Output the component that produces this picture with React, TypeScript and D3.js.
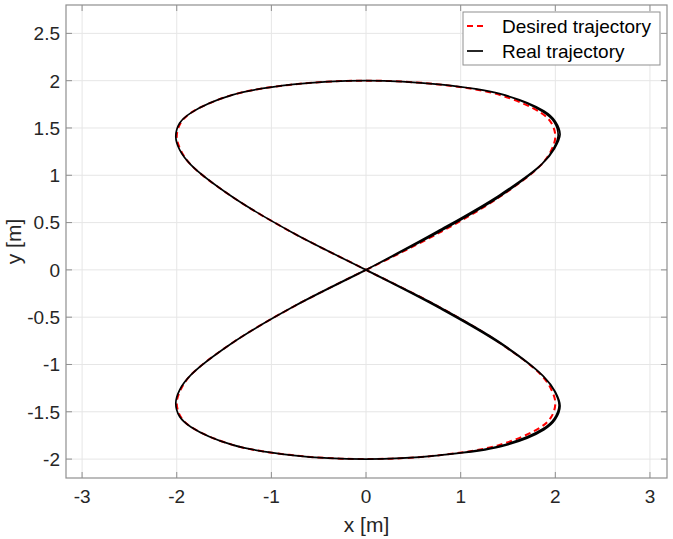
import * as d3 from 'd3'

// desired trajectory (x [m], y [m])
const desiredX = [
  0, 0.77, 1.41, 1.85, 1.96, 2.0, 1.96, 1.85, 1.41, 0.77, 0, -0.77, -1.41, -1.85, -1.96, -2.0, -1.96, -1.85, -1.41, -0.77, 0,
  0.77, 1.41, 1.85, 1.96, 2.0, 1.96, 1.85, 1.41, 0.77, 0, -0.77, -1.41, -1.85, -1.96, -2.0, -1.96, -1.85, -1.41, -0.77, 0,
]
const desiredY = [
  0, 0.39, 0.77, 1.11, 1.27, 1.41, 1.55, 1.66, 1.85, 1.96, 2.0, 1.96, 1.85, 1.66, 1.55, 1.41, 1.27, 1.11, 0.77, 0.39, 0,
  -0.39, -0.77, -1.11, -1.27, -1.41, -1.55, -1.66, -1.85, -1.96, -2.0, -1.96, -1.85, -1.66, -1.55, -1.41, -1.27, -1.11, -0.77, -0.39, 0,
]

// real trajectory, lap 1 (small start-up error, overshoot on the right lobes)
const realLap1X = [
  0, 0.76, 1.41, 1.86, 1.99, 2.05, 2.0, 1.88, 1.42, 0.77, 0, -0.77, -1.41, -1.85, -1.97, -2.01, -1.97, -1.85, -1.41, -0.77, 0,
  0.77, 1.42, 1.87, 1.99, 2.04, 1.99, 1.87, 1.42, 0.77, 0, -0.77, -1.41, -1.85, -1.97, -2.01, -1.97, -1.85, -1.41, -0.77, 0,
]
const realLap1Y = [
  0, 0.41, 0.79, 1.12, 1.28, 1.43, 1.57, 1.68, 1.86, 1.96, 2.0, 1.96, 1.85, 1.66, 1.55, 1.41, 1.27, 1.11, 0.77, 0.39, 0,
  -0.39, -0.77, -1.12, -1.28, -1.43, -1.57, -1.68, -1.86, -1.96, -2.0, -1.96, -1.85, -1.66, -1.55, -1.41, -1.27, -1.11, -0.77, -0.39, 0,
]
// real trajectory, lap 2
const realLap2X = [
  0.77, 1.42, 1.86, 1.98, 2.03, 1.99, 1.87, 1.42, 0.77, 0, -0.77, -1.41, -1.85, -1.97, -2.01, -1.97, -1.85, -1.41, -0.77, 0,
  0.77, 1.42, 1.88, 2.0, 2.05, 2.0, 1.88, 1.42, 0.77, 0, -0.77, -1.41, -1.85, -1.97, -2.01, -1.97, -1.85, -1.41, -0.77, 0,
]
const realLap2Y = [
  0.4, 0.78, 1.12, 1.28, 1.42, 1.56, 1.67, 1.86, 1.96, 2.0, 1.96, 1.85, 1.66, 1.55, 1.41, 1.27, 1.11, 0.77, 0.39, 0,
  -0.4, -0.78, -1.13, -1.29, -1.44, -1.58, -1.69, -1.87, -1.96, -2.0, -1.96, -1.85, -1.66, -1.55, -1.41, -1.27, -1.11, -0.77, -0.39, 0,
]

const xTicks = [-3, -2, -1, 0, 1, 2, 3]
const yTicks = [-2, -1.5, -1, -0.5, 0, 0.5, 1, 1.5, 2, 2.5]
const legendLabels = ['Desired trajectory', 'Real trajectory']

interface Pos {
  x: number
  y: number
}

const W = 673
const H = 539
const left = 66
const right = 667
const top = 5
const bottom = 478

const font = "'Liberation Sans', Arial, Helvetica, sans-serif"
const frameColor = '#8f8f8f'
const gridColor = '#e6e6e6'
const textColor = '#262626'
const red = '#ff0000'

const App = () => {
  const x = d3.scaleLinear().domain([-3.17, 3.18]).range([left, right])
  const y = d3.scaleLinear().domain([-2.2, 2.8]).range([bottom, top])

  const line = d3
    .line<Pos>()
    .x((d) => x(d.x))
    .y((d) => y(d.y))
    .curve(d3.curveCatmullRom.alpha(0.5))

  const desired: Pos[] = desiredX.map((v, i) => ({ x: v, y: desiredY[i] }))
  const realXs = realLap1X.concat(realLap2X)
  const realYs = realLap1Y.concat(realLap2Y)
  const real: Pos[] = realXs.map((v, i) => ({ x: v, y: realYs[i] }))

  const tick = 6

  return (
    <svg
      width={W}
      height={H}
      style={{ position: 'absolute', left: 0, top: 0, background: '#fff' }}
      fontFamily={font}
    >
      <rect x={0} y={0} width={W} height={H} fill="#fff" />
      {/* grid */}
      {xTicks.map((t) => (
        <line key={'gx' + t} x1={x(t)} x2={x(t)} y1={top} y2={bottom} stroke={gridColor} strokeWidth={1} />
      ))}
      {yTicks.map((t) => (
        <line key={'gy' + t} x1={left} x2={right} y1={y(t)} y2={y(t)} stroke={gridColor} strokeWidth={1} />
      ))}

      {/* curves */}
      <path d={line(desired) ?? undefined} fill="none" stroke={red} strokeWidth={2} strokeDasharray="6,4" />
      <path d={line(real) ?? undefined} fill="none" stroke="#000" strokeWidth={1.7} />

      {/* frame and ticks */}
      <rect x={left} y={top} width={right - left} height={bottom - top} fill="none" stroke={frameColor} strokeWidth={1.2} />
      {xTicks.map((t) => (
        <g key={'tx' + t}>
          <line x1={x(t)} x2={x(t)} y1={bottom} y2={bottom - tick} stroke={frameColor} />
          <line x1={x(t)} x2={x(t)} y1={top} y2={top + tick} stroke={frameColor} />
          <text x={x(t)} y={503} textAnchor="middle" fontSize={19} fill={textColor}>
            {t}
          </text>
        </g>
      ))}
      {yTicks.map((t) => (
        <g key={'ty' + t}>
          <line x1={left} x2={left + tick} y1={y(t)} y2={y(t)} stroke={frameColor} />
          <line x1={right} x2={right - tick} y1={y(t)} y2={y(t)} stroke={frameColor} />
          <text x={60} y={y(t)} dy="0.36em" textAnchor="end" fontSize={19} fill={textColor}>
            {t}
          </text>
        </g>
      ))}

      {/* axis labels */}
      <text x={(left + right) / 2} y={532} textAnchor="middle" fontSize={21} fill={textColor}>
        x [m]
      </text>
      <text transform={`translate(21,${(top + bottom) / 2}) rotate(-90)`} textAnchor="middle" fontSize={21} fill={textColor}>
        y [m]
      </text>

      {/* legend */}
      <rect x={463} y={12} width={197} height={53} fill="#fff" stroke={frameColor} strokeWidth={1} />
      <line x1={467} x2={483} y1={26} y2={26} stroke={red} strokeWidth={2} strokeDasharray="6,4" />
      <line x1={467} x2={483} y1={51} y2={51} stroke="#000" strokeWidth={1.7} />
      {legendLabels.map((l, i) => (
        <text key={l} x={502} y={26 + i * 25} dy="0.36em" fontSize={19} fill="#000">
          {l}
        </text>
      ))}
    </svg>
  )
}

export default App
